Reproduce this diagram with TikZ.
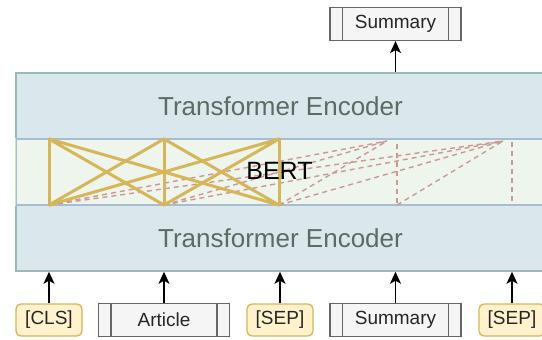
\documentclass[tikz,border=0pt]{standalone}
\usepackage{fontspec}
\setmainfont{Liberation Sans}
\usetikzlibrary{arrows.meta}
\definecolor{encfill}{HTML}{DAE7EC}
\definecolor{encdraw}{HTML}{9BBAB4}
\definecolor{enctext}{HTML}{5E6B63}
\definecolor{bandfill}{HTML}{EEF5EC}
\definecolor{banddraw}{HTML}{A6BFD0}
\definecolor{bandleft}{HTML}{CFE3C6}
\definecolor{ylwfill}{HTML}{FFF2CC}
\definecolor{ylwdraw}{HTML}{D6B656}
\definecolor{procfill}{HTML}{F5F5F5}
\definecolor{procdraw}{HTML}{666666}
\definecolor{reddash}{HTML}{CC9894}
\tikzset{
  encbox/.style={draw=encdraw, fill=encfill, line width=1.5pt, minimum width=529pt, minimum height=66pt, inner sep=0pt,
    text=enctext, font=\fontsize{26}{30}\selectfont},
  bandbox/.style={draw=banddraw, fill=bandfill, line width=1.5pt, minimum width=529pt, minimum height=66pt, inner sep=0pt},
  tokbox/.style={draw=ylwdraw, fill=ylwfill, line width=1.3pt, rounded corners=5pt, minimum width=66pt, minimum height=32pt,
    inner sep=0pt, text=black!85, font=\fontsize{19}{22}\selectfont},
  procbox/.style={draw=procdraw, fill=procfill, line width=1.2pt, minimum width=131pt, minimum height=33pt, inner sep=0pt,
    text=black!85, font=\fontsize{19}{22}\selectfont,
    path picture={
      \draw[procdraw, line width=1.2pt]
        ([xshift=12.5pt]path picture bounding box.north west) -- ([xshift=12.5pt]path picture bounding box.south west)
        ([xshift=-12.5pt]path picture bounding box.north east) -- ([xshift=-12.5pt]path picture bounding box.south east);
    }},
  attn/.style={draw=ylwdraw, line width=3pt, line cap=round, line join=round},
  causal/.style={draw=reddash, line width=1.4pt, dash pattern=on 5pt off 4pt},
  arr/.style={draw=black, line width=1.5pt, -{Stealth[length=12pt,width=11pt,inset=3pt]}}
}
\begin{document}
\begin{tikzpicture}[x=1pt,y=-1pt]
\useasboundingbox (0,0) rectangle (542,340);
\clip (0,0) rectangle (542,340);
% encoder boxes
\node[encbox] (enc1) at (280.5,106) {Transformer Encoder};
\node[encbox] (enc2) at (280.5,238) {Transformer Encoder};
% BERT band
\node[bandbox] (band) at (280.5,172) {};
\draw[bandleft, line width=1.5pt] (band.north west) -- (band.south west);
% attention anchors
\coordinate (t1) at (49,139);
\coordinate (t2) at (164,139);
\coordinate (t3) at (279,139);
\coordinate (t4) at (397,141);
\coordinate (t5) at (512,141);
\coordinate (c4) at (387,141);
\coordinate (c5) at (503,141);
\coordinate (b1) at (49,205);
\coordinate (b2) at (164,205);
\coordinate (b3) at (279,205);
\coordinate (b4) at (397,205);
\coordinate (b5) at (512,205);
\coordinate (e4) at (397,203);
\coordinate (e5) at (512,201);
% causal (dashed) attention
\draw[causal] (b1) -- (c4);
\draw[causal] (b2) -- (c4);
\draw[causal] (b3) -- (c4);
\draw[causal] (e4) -- (t4);
\draw[causal] (b1) -- (c5);
\draw[causal] (b2) -- (c5);
\draw[causal] (b3) -- (c5);
\draw[causal] (b4) -- (c5);
\draw[causal] (e5) -- (t5);
% bidirectional attention
\draw[attn] (b1) -- (t1);
\draw[attn] (b2) -- (t2);
\draw[attn] (b3) -- (t3);
\draw[attn] (b1) -- (t2);
\draw[attn] (t1) -- (b2);
\draw[attn] (b2) -- (t3);
\draw[attn] (t2) -- (b3);
\draw[attn] (b1) -- (t3);
\draw[attn] (t1) -- (b3);
\node[font=\fontsize{25}{30}\selectfont, text=black] (bert) at (279.5,171) {BERT};
% output
\node[procbox] (sumout) at (395.5,24) {Summary};
\draw[arr] (sumout.south |- enc1.north) -- (sumout.south);
% inputs
\node[tokbox] (cls) at (49,320) {[CLS]};
\node[procbox] (article) at (164,320) {Article};
\node[tokbox] (sep1) at (280,320) {[SEP]};
\node[procbox] (summ) at (395.5,320) {Summary};
\node[tokbox] (sep2) at (512,320) {[SEP]};
\draw[arr] (cls.north) -- (cls.north |- enc2.south);
\draw[arr] (article.north) -- (article.north |- enc2.south);
\draw[arr] (sep1.north) -- (sep1.north |- enc2.south);
\draw[arr] (summ.north) -- (summ.north |- enc2.south);
\draw[arr] (sep2.north) -- (sep2.north |- enc2.south);
\end{tikzpicture}
\end{document}
